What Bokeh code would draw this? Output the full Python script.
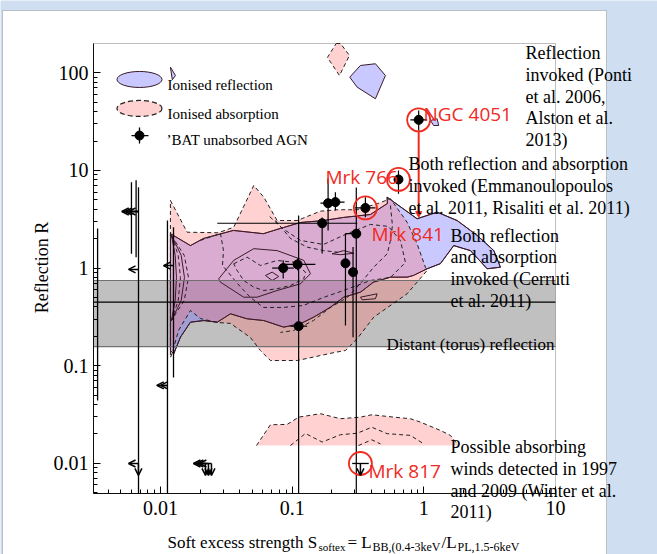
import math
from bokeh.plotting import figure
from bokeh.models import (ColumnDataSource, Label, BoxAnnotation, Arrow, OpenHead, NormalHead,
                          FixedTicker, CustomJSTickFormatter, Range1d)
from bokeh.embed import file_html
from bokeh.resources import INLINE

# ---------------- data ----------------
x_ticks = [0.01, 0.1, 1, 10]
y_ticks = [0.01, 0.1, 1, 10, 100]
x_lim = [0.0031, 10]
y_lim = [0.0049, 200]

# distant (torus) reflection band
band_lo, band_mid, band_hi = 0.157, 0.447, 0.746

# ionised reflection contour (outer, solid)
refl_x = [0.0119, 0.0169, 0.0212, 0.0358, 0.0605, 0.0815, 0.1156, 0.1729, 0.2452, 0.393, 0.529,
          0.526, 0.889, 1.262, 1.790, 2.540, 3.40, 3.816, 3.025, 2.259, 1.687, 1.337, 1.059, 0.834,
          0.7465, 0.5577, 0.4143, 0.330, 0.2465, 0.1953, 0.1459, 0.1156, 0.0863, 0.0609, 0.0455,
          0.0340, 0.0270, 0.0213, 0.0169, 0.01418, 0.0126, 0.0119]
refl_y = [2.25, 1.70, 2.01, 2.43, 2.25, 2.55, 2.93, 3.07, 3.30, 3.54, 4.59,
          5.33, 3.20, 3.74, 3.07, 2.16, 1.51, 1.02, 0.984, 1.51, 1.70, 1.11, 0.984, 0.840,
          0.807, 0.807, 0.717, 0.566, 0.503, 0.397, 0.314, 0.269, 0.248, 0.290, 0.302,
          0.340, 0.279, 0.290, 0.279, 0.196, 0.132, 0.143]
refl_in_x = [0.0277, 0.0360, 0.0511, 0.0769, 0.1225, 0.1377, 0.1156, 0.0769, 0.0542, 0.0429, 0.02855]
refl_in_y = [0.777, 1.20, 1.58, 1.51, 1.20, 0.874, 0.690, 0.589, 0.503, 0.503, 0.717]
refl_core_x = [0.0627, 0.0705, 0.0791, 0.0705]
refl_core_y = [0.840, 0.908, 0.820, 0.746]
refl_s1_x = [0.2012, 0.2465, 0.2936, 0.2326]
refl_s1_y = [1.40, 1.51, 1.42, 1.37]
refl_s2_x = [0.330, 0.4418, 0.429, 0.340]
refl_s2_y = [0.503, 0.545, 0.485, 0.473]
refl_top_x = [0.2738, 0.330, 0.429, 0.511, 0.429, 0.3116]
refl_top_y = [90.4, 119.1, 124.0, 94.0, 54.3, 71.4]
refl_ngc_x = [1.122, 1.262, 1.297, 1.189]
refl_ngc_y = [32.5, 33.9, 28.9, 28.9]
refl_leg_x = [0.0119, 0.0130, 0.0123]
refl_leg_y = [114.4, 94.0, 85.0]

# ionised absorption contour (outer, dashed)
abs_x = [0.0119, 0.01595, 0.0274, 0.0360, 0.0511, 0.0609, 0.0769, 0.1091, 0.164, 0.2196, 0.3116,
         0.4418, 0.5577, 0.7465, 0.8894, 1.028, 1.059, 0.7465, 0.4165, 0.3131, 0.254, 0.2132,
         0.164, 0.1097, 0.0684, 0.0574, 0.0482, 0.0340, 0.0271, 0.0201, 0.0169, 0.0137, 0.01233, 0.0119]
abs_y = [4.93, 2.33, 2.30, 2.62, 7.02, 5.33, 3.07, 3.07, 3.83, 3.96, 3.96,
         4.56, 5.13, 2.95, 1.77, 1.02, 0.945, 0.545, 0.314, 0.190, 0.143, 0.137,
         0.127, 0.113, 0.113, 0.143, 0.1945, 0.271, 0.277, 0.304, 0.368, 0.229, 0.137, 0.121]
abs_a_x = [0.0360, 0.0455, 0.0574, 0.0769, 0.1028, 0.1262, 0.1225, 0.0971, 0.0769, 0.0609, 0.0511, 0.0429, 0.0382, 0.0360]
abs_a_y = [1.107, 1.293, 1.063, 1.196, 1.149, 0.908, 0.777, 0.663, 0.614, 0.589, 0.637, 0.746, 0.945, 1.107]
abs_b_x = [0.0201, 0.02855, 0.0301, 0.02957, 0.0384, 0.0482, 0.0605, 0.0859, 0.1218, 0.1729, 0.2452,
           0.393, 0.5577, 0.725, 0.6643, 0.538, 0.393, 0.254, 0.1729, 0.1156, 0.0844, 0.0661]
abs_b_y = [1.92, 2.26, 1.51, 1.063, 0.695, 0.500, 0.395, 0.395, 0.414, 0.500, 0.589,
           0.746, 0.801, 1.141, 1.92, 2.67, 2.80, 2.21, 1.745, 1.92, 2.55, 3.46]
abs_c_x = [0.5577, 0.5776, 0.5577, 0.529, 0.4143, 0.330, 0.263, 0.1953, 0.1451, 0.1023, 0.0815]
abs_c_y = [4.38, 2.73, 1.92, 1.41, 1.014, 0.695, 0.500, 0.395, 0.290, 0.229, 0.219]
abs_d_x = [0.0747, 0.0971, 0.130, 0.1729, 0.2216]
abs_d_y = [3.07, 2.01, 1.64, 1.51, 1.455]
abs_top_x = [0.2160, 0.2330, 0.2723, 0.2287, 0.1853]
abs_top_y = [200.0, 200.0, 150.8, 94.0, 143.8]
abs_low_x = [0.0536, 0.0684, 0.0916, 0.1122, 0.164, 0.2326, 0.330, 0.4026, 0.5906, 0.7908, 0.9423, 1.337, 1.592, 1.831]
abs_low_y = [0.0152, 0.0248, 0.0250, 0.0297, 0.0322, 0.0286, 0.0297, 0.0314, 0.0297, 0.0286, 0.0264, 0.0217, 0.0193, 0.0152]
abs_low1_x = [0.0971, 0.1262, 0.169, 0.2326, 0.3116, 0.4026, 0.5264, 0.7908, 1.0]
abs_low1_y = [0.0152, 0.0202, 0.0165, 0.0196, 0.0203, 0.0234, 0.0201, 0.0193, 0.0158]
abs_low2_x = [0.3187, 0.4026, 0.4683]
abs_low2_y = [0.0152, 0.0174, 0.0158]

# crowded contour levels at the low-S edge
edge_y = [2.16, 1.35, 0.801, 0.466, 0.290]
edge1_x = [0.01212, 0.01294, 0.01323, 0.01294, 0.01212]
edge2_x = [0.01212, 0.01364, 0.01418, 0.01364, 0.01212]
edge3_x = [0.01212, 0.01437, 0.01521, 0.01437, 0.01212]
edge4_x = [0.01212, 0.01515, 0.01632, 0.01515, 0.01212]

# BAT unabsorbed AGN with measured S and R
agn_x = [0.0855, 0.110, 0.112, 0.169, 0.1875, 0.213, 0.307, 0.254, 0.290, 0.914, 0.642, 0.360]
agn_y = [1.00, 1.09, 0.254, 2.88, 4.62, 4.74, 2.25, 1.12, 0.908, 33.0, 8.09, 4.13]
agn_xlo = [0.0705, 0.084, 0.097, 0.027, 0.164, 0.190, 0.254, 0.240, 0.270, 0.79, 0.60, 0.30]
agn_xhi = [0.103, 0.150, 0.130, 0.312, 0.220, 0.250, 0.330, 0.268, 0.310, 1.06, 0.69, 0.43]
agn_ylo = [0.78, 0.95, 0.0049, 1.41, 2.43, 3.89, 0.0049, 0.258, 0.196, 25.7, 5.78, 3.32]
agn_yhi = [1.20, 1.25, 3.45, 3.30, 8.28, 6.00, 6.70, 2.26, 1.64, 41.1, 10.0, 5.33]

# sources with upper limits on S (vertical error ranges in R)
ulim_x = [0.00333, 0.00602, 0.00653, 0.00681, 0.0113, 0.01256]
ulim_ylo = [0.044, 1.40, 1.29, 0.0049, 0.0049, 0.0757]
ulim_yhi = [2.55, 7.59, 7.92, 6.74, 3.07, 2.62]
left_y = [3.80, 3.80, 3.80, 0.968, 1.06, 0.0627, 0.0627, 0.00995, 0.00995, 0.00995, 0.00995]
left_x0 = [0.0068, 0.0068, 0.0068, 0.0068, 0.0126, 0.0113, 0.0113, 0.0068, 0.02196, 0.02314, 0.02439]
left_x1 = [0.00508, 0.00539, 0.00572, 0.00572, 0.01054, 0.00937, 0.0100, 0.00572, 0.01779, 0.01874, 0.01975]
down_x = [0.0068, 0.02196, 0.02314, 0.02439, 0.330]
down_y0 = [0.00995, 0.00995, 0.00995, 0.00995, 0.00995]
down_y1 = [0.0075, 0.0075, 0.0075, 0.0075, 0.0075]
mrk817_x, mrk817_y = 0.330, 0.00995
mrk817_xlo, mrk817_xhi = 0.2855, 0.3816

# highlighted sources
hl_names = ["NGC 4051", "Mrk 766", "Mrk 841", "Mrk 817"]
hl_x = [0.914, 0.642, 0.360, 0.330]
hl_y = [33.0, 8.09, 4.13, 0.00995]
ngc_arrow_y = [25.7, 3.3]

# ---------------- figure ----------------
SERIF = "Liberation Serif"
SANS = "Open Sans"
BLUE = "#6464ff"
PINK = "#ff7070"
RED = "#f02a1e"
LINE = "#3a1a2a"
W, H = 657, 554
# the plot box occupies canvas pixels 93..555 (x) and 43..493 (y); the frame spans the whole canvas
bx0, bx1, by0, by1 = 93, 555, 43, 493
lx0, lx1 = math.log10(x_lim[0]), math.log10(x_lim[1])
ly0, ly1 = math.log10(y_lim[0]), math.log10(y_lim[1])
kx = (lx1 - lx0) / (bx1 - bx0)
ky = (ly1 - ly0) / (by1 - by0)
fx = Range1d(10 ** (lx0 - bx0 * kx), 10 ** (lx1 + (W - bx1) * kx))
fy = Range1d(10 ** (ly0 - (H - by1) * ky), 10 ** (ly1 + by0 * ky))

p = figure(width=W, height=H, x_axis_type="log", y_axis_type="log",
           x_range=fx, y_range=fy,
           output_backend="svg", toolbar_location=None,
           min_border=0, min_border_left=0, min_border_right=0, min_border_top=0, min_border_bottom=0,
           background_fill_color="#cfdff1", border_fill_color="#cfdff1",
           outline_line_color=None)
p.grid.visible = False

# white slide panel behind the chart
p.add_layout(BoxAnnotation(left=2, right=606, top=10, bottom=560,
                           left_units="canvas", right_units="canvas",
                           top_units="canvas", bottom_units="canvas",
                           fill_color="white", fill_alpha=1.0, line_color="#505050",
                           line_width=1, level="underlay"))

minor = [m * 10.0 ** k for k in range(-3, 3) for m in range(2, 10)]
for ax, ticks, lim in ((p.xaxis, x_ticks, x_lim), (p.yaxis, y_ticks, y_lim)):
    ax.ticker = FixedTicker(ticks=ticks, minor_ticks=[v for v in minor if lim[0] < v < lim[1]])
    ax.formatter = CustomJSTickFormatter(code="return String(tick);")
    ax.major_label_text_font = SERIF
    ax.major_label_text_font_size = "20px"
    ax.major_label_text_color = "black"
    ax.axis_line_color = "black"
    ax.major_tick_in = 7
    ax.major_tick_out = 0
    ax.minor_tick_in = 4
    ax.minor_tick_out = 0
    ax.major_tick_line_color = "black"
    ax.minor_tick_line_color = "black"
p.xaxis.fixed_location = y_lim[0]
p.xaxis.bounds = (x_lim[0], x_lim[1])
p.yaxis.fixed_location = x_lim[0]
p.yaxis.bounds = (y_lim[0], y_lim[1])
p.xaxis.major_label_standoff = 7
p.yaxis.major_label_standoff = 5

# grey band
p.quad(left=[x_lim[0]], right=[x_lim[1]], bottom=[band_lo], top=[band_hi],
       fill_color="#c0c0c0", line_color=None)

# reflection (blue) fills
for xs, ys in ((refl_x, refl_y), (refl_top_x, refl_top_y), (refl_ngc_x, refl_ngc_y), (refl_leg_x, refl_leg_y)):
    p.patch(xs, ys, fill_color=BLUE, fill_alpha=0.35, line_color=LINE, line_width=1)

# absorption (pink) fills
for xs, ys in ((abs_x, abs_y), (abs_top_x, abs_top_y)):
    p.patch(xs, ys, fill_color=PINK, fill_alpha=0.32, line_color="#222222", line_width=1, line_dash="4 3")
p.patch(abs_low_x, abs_low_y, fill_color=PINK, fill_alpha=0.32, line_color=None)
p.line(abs_low_x, abs_low_y, line_color="#222222", line_width=1, line_dash="4 3")

# outer reflection contour drawn over pink
p.patch(refl_x, refl_y, fill_color=None, line_color=LINE, line_width=1)

# inner contour levels
for xs, ys in ((refl_in_x, refl_in_y), (refl_core_x, refl_core_y), (refl_s1_x, refl_s1_y), (refl_s2_x, refl_s2_y)):
    p.patch(xs, ys, fill_color=None, line_color=LINE, line_width=1)
for xs, ys in ((abs_a_x, abs_a_y), (abs_b_x, abs_b_y), (abs_c_x, abs_c_y), (abs_d_x, abs_d_y),
               (abs_low1_x, abs_low1_y), (abs_low2_x, abs_low2_y)):
    p.line(xs, ys, line_color="#222222", line_width=1, line_dash="4 3")
for i, xs in enumerate((edge1_x, edge2_x, edge3_x, edge4_x)):
    p.line(xs, edge_y, line_color=LINE, line_width=1, line_dash="4 3" if i % 2 else "solid")

# band edges and mid line
p.segment(x0=[x_lim[0]] * 3, x1=[x_lim[1]] * 3, y0=[band_lo, band_hi, band_mid], y1=[band_lo, band_hi, band_mid],
          line_color=["#707070", "#707070", "black"], line_width=1.2)

# upper-limit sources
p.segment(x0=ulim_x, y0=ulim_ylo, x1=ulim_x, y1=ulim_yhi, line_color="black", line_width=1.3)
p.add_layout(Arrow(x_start="x0", y_start="y", x_end="x1", y_end="y", line_width=1.5,
                   end=OpenHead(size=7, line_width=1.5),
                   source=ColumnDataSource(dict(x0=left_x0, x1=left_x1, y=left_y))))
p.add_layout(Arrow(x_start="x", y_start="y0", x_end="x", y_end="y1", line_width=1.5,
                   end=OpenHead(size=7, line_width=1.5),
                   source=ColumnDataSource(dict(x=down_x, y0=down_y0, y1=down_y1))))
p.segment(x0=[mrk817_xlo], y0=[mrk817_y], x1=[mrk817_xhi], y1=[mrk817_y], line_color="black", line_width=1.3)

# detected sources
p.segment(x0=agn_x, y0=agn_ylo, x1=agn_x, y1=agn_yhi, line_color="black", line_width=1.2)
p.segment(x0=agn_xlo, y0=agn_y, x1=agn_xhi, y1=agn_y, line_color="black", line_width=1.2)
p.scatter(agn_x, agn_y, size=9, fill_color="black", line_color="black")

# highlighted sources
p.scatter(hl_x, hl_y, size=23, fill_color=None, line_color=RED, line_width=1.8)
p.add_layout(Arrow(x_start=hl_x[0], y_start=ngc_arrow_y[0], x_end=hl_x[0], y_end=ngc_arrow_y[1],
                   line_color=RED, line_width=2,
                   end=NormalHead(size=6, fill_color=RED, line_color=RED)))

# plot box (top and right edges)
p.add_layout(BoxAnnotation(left=x_lim[0], right=x_lim[1], bottom=y_lim[0], top=y_lim[1],
                           fill_color=None, fill_alpha=0, line_color="#303030", line_width=1))

# legend
leg_x = 0.00693
p.ellipse(x=[leg_x], y=[85.6], width=45, height=16, width_units="screen", height_units="screen",
          fill_color=BLUE, fill_alpha=0.35, line_color=LINE, line_width=1)
p.ellipse(x=[leg_x], y=[43.2], width=45, height=16, width_units="screen", height_units="screen",
          fill_color=PINK, fill_alpha=0.32, line_color="#222222", line_width=1.2, line_dash="5 3")
p.segment(x0=[0.00602, leg_x], y0=[22.8, 18.9], x1=[0.00811, leg_x], y1=[22.8, 27.6],
          line_color="black", line_width=1.3)
p.scatter([leg_x], [22.8], size=9, fill_color="black", line_color="black")


def lab(text, x, y, size, font=SERIF, color="black", angle=0.0, align="left"):
    p.add_layout(Label(x=x, y=y, x_units="canvas", y_units="canvas", text=text,
                       text_font=font, text_font_size=size, text_color=color, angle=angle,
                       text_baseline="alphabetic", text_align=align))


lab("Ionised reflection", 167, 84, "15px")
lab("Ionised absorption", 167, 113, "15px")
lab("\u02bcBAT unabsorbed AGN", 166, 139, "15px")

for name, (lx, ly) in zip(hl_names, ((423, 113), (325, 176), (371, 233), (368, 470))):
    lab(name, lx, ly, "19px", font=SANS, color=RED)

notes = [
    (525, 52.5, ["Reflection", "invoked (Ponti", "et al. 2006,", "Alston et al.", "2013)"]),
    (408, 163.5, ["Both reflection and absorption", "invoked (Emmanoulopoulos", "et al. 2011, Risaliti et al. 2011)"]),
    (450, 235, ["Both reflection", "and absorption", "invoked (Cerruti", "et al. 2011)"]),
    (450, 446.5, ["Possible absorbing", "winds detected in 1997", "and 2009 (Winter et al.", "2011)"]),
]
for nx, ny, lines in notes:
    for i, t in enumerate(lines):
        lab(t, nx, ny + i * 21.8, "18px")
lab("Distant (torus) reflection", 386, 344, "17px")

# axis titles
lab("Reflection R", 41, 267, "18px", angle=math.pi / 2, align="center")
for t, tx, ty, ts in (("Soft excess strength S", 167, 542, "17px"),
                      ("softex", 318, 546, "11px"),
                      ("= L", 347, 542, "17px"),
                      ("BB,(0.4-3keV", 372, 546, "12px"),
                      ("/L", 441, 542, "17px"),
                      ("PL,1.5-6keV", 457, 546, "12px")):
    lab(t, tx, ty, ts)

open("out.html", "w").write(file_html(p, INLINE))
